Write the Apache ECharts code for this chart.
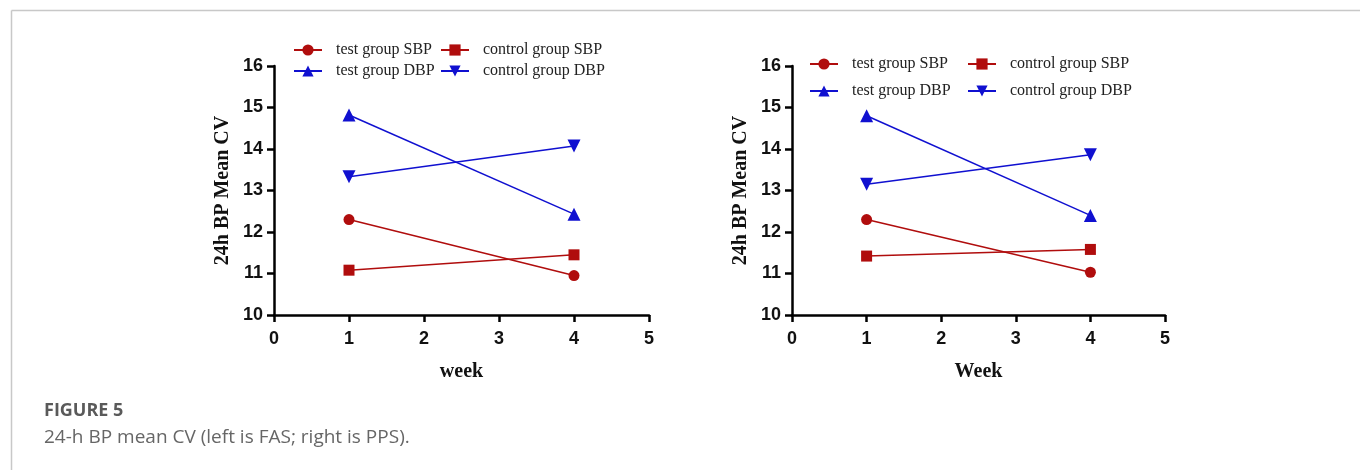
<!DOCTYPE html>
<html><head><meta charset="utf-8">
<script src="https://cdn.jsdelivr.net/npm/echarts@6/dist/echarts.min.js"></script>
<style>html,body{margin:0;padding:0;background:#fff;}#c{width:1360px;height:470px;}</style>
</head><body><div id="c"></div>
<script>
// Data
const weeks = [1, 4];
const seriesNames = ['test group SBP', 'control group SBP', 'test group DBP', 'control group DBP'];
// Left panel (FAS)
const fasTestSBP = [12.3, 10.95];
const fasControlSBP = [11.08, 11.45];
const fasTestDBP = [14.82, 12.43];
const fasControlDBP = [13.33, 14.07];
// Right panel (PPS)
const ppsTestSBP = [12.3, 11.03];
const ppsControlSBP = [11.42, 11.58];
const ppsTestDBP = [14.8, 12.4];
const ppsControlDBP = [13.15, 13.86];
const xTitles = ['week', 'Week'];
const yTitle = '24h BP Mean CV';
const captionTitle = 'FIGURE 5';
const captionText = '24-h BP mean CV (left is FAS; right is PPS).';

const RED = '#b00d0d', BLUE = '#1010d0';
const styles = [
  {color: RED, symbol: 'circle', rot: 0},
  {color: RED, symbol: 'rect', rot: 0},
  {color: BLUE, symbol: 'triangle', rot: 0},
  {color: BLUE, symbol: 'triangle', rot: 180}
];
const panels = [
  {vals: [fasTestSBP, fasControlSBP, fasTestDBP, fasControlDBP], left: 274, width: 375,
   leg: [[293, 42], [440, 42], [293, 63], [440, 63]]},
  {vals: [ppsTestSBP, ppsControlSBP, ppsTestDBP, ppsControlDBP], left: 792, width: 373,
   leg: [[809, 56], [967, 56], [809, 83], [967, 83]]}
];

const grids = [], xAxes = [], yAxes = [], series = [], legends = [];
panels.forEach((p, i) => {
  grids.push({left: p.left, top: 66, width: p.width, height: 249, containLabel: false});
  const axisCommon = {
    axisLine: {show: true, lineStyle: {color: '#000', width: 2.5}},
    axisTick: {show: true, inside: false, length: 7, lineStyle: {color: '#000', width: 2.5}},
    splitLine: {show: false},
    axisLabel: {color: '#111', fontFamily: 'Liberation Sans, Arial', fontWeight: 'bold', fontSize: 18}
  };
  xAxes.push(Object.assign({}, axisCommon, {
    type: 'value', gridIndex: i, min: 0, max: 5, interval: 1,
    axisLabel: Object.assign({}, axisCommon.axisLabel, {margin: 15}),
    name: xTitles[i], nameLocation: 'middle', nameGap: 47,
    nameTextStyle: {fontFamily: 'Liberation Serif, Times New Roman', fontWeight: 'bold', fontSize: 20, color: '#111'}
  }));
  yAxes.push(Object.assign({}, axisCommon, {
    type: 'value', gridIndex: i, min: 10, max: 16, interval: 1,
    axisLabel: Object.assign({}, axisCommon.axisLabel, {margin: 11}),
    name: yTitle, nameLocation: 'middle', nameGap: 41, nameRotate: 90,
    nameTextStyle: {fontFamily: 'Liberation Serif, Times New Roman', fontWeight: 'bold', fontSize: 20, color: '#111'}
  }));
  p.vals.forEach((v, k) => {
    const st = styles[k];
    series.push({
      id: 'p' + i + 's' + k, name: seriesNames[k], type: 'line', xAxisIndex: i, yAxisIndex: i,
      data: weeks.map((w, j) => [w, v[j]]),
      symbol: st.symbol, symbolSize: st.symbol === 'triangle' ? 13 : 11,
      symbolRotate: st.rot,
      lineStyle: {color: st.color, width: 1.5},
      itemStyle: {color: st.color},
      silent: true, animation: false
    });
  });
  p.leg.forEach((pos, k) => {
    legends.push({
      left: pos[0], top: pos[1], orient: 'horizontal', padding: 0,
      data: [{name: seriesNames[k]}],
      itemWidth: 28, itemHeight: 14, itemGap: 0,
      selectedMode: false,
      textStyle: {fontFamily: 'Liberation Serif, Times New Roman', fontSize: 16, color: '#222', padding: [0, 0, 0, 9]}
    });
  });
});

const chart = echarts.init(document.getElementById('c'), null, {renderer: 'canvas'});
chart.setOption({
  animation: false,
  backgroundColor: '#fff',
  grid: grids, xAxis: xAxes, yAxis: yAxes, series: series, legend: legends,
  graphic: [
    {type: 'line', shape: {x1: 11.5, y1: 10.5, x2: 1360, y2: 10.5}, style: {stroke: '#c8c8c8', lineWidth: 1.5}, silent: true},
    {type: 'line', shape: {x1: 11.5, y1: 10.5, x2: 11.5, y2: 470}, style: {stroke: '#c8c8c8', lineWidth: 1.5}, silent: true},
    {type: 'text', left: 44, top: 402, style: {text: captionTitle, font: 'bold 18px "Open Sans", sans-serif', fill: '#5a5a5a'}},
    {type: 'text', left: 44, top: 428, style: {text: captionText, font: '19px "Open Sans", sans-serif', fill: '#666'}}
  ]
});
</script></body></html>
